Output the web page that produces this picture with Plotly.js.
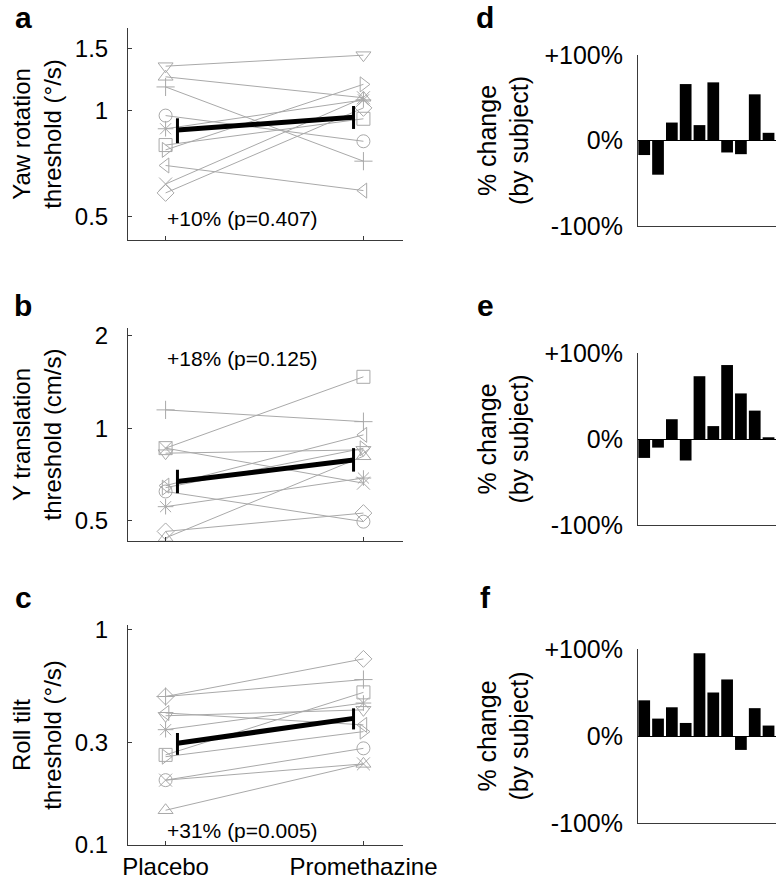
<!DOCTYPE html>
<html>
<head>
<meta charset="utf-8">
<script src="https://cdn.plot.ly/plotly-3.0.1.min.js"></script>
<style>
  body { margin: 0; padding: 0; background: #fff; }
  #chart { width: 776px; height: 879px; }
</style>
</head>
<body>
<div id="chart"></div>
<script>
// Conditions on the x axis
var conditions = ["Placebo", "Promethazine"];

// Marker per subject (same order in every panel)
var subjectMarkers = ["circle-open", "cross-thin-open", "asterisk-open", "x-thin-open", "square-open",
  "diamond-open", "triangle-up-open", "triangle-down-open", "triangle-right-open", "triangle-left-open"];

// a: yaw rotation thresholds (deg/s)
var yawPlacebo = [0.97, 1.17, 0.89, 0.62, 0.80, 0.585, 1.25, 1.34, 0.775, 0.70];
var yawPromethazine = [0.82, 0.72, 1.075, 1.09, 0.95, 1.02, 1.09, 1.44, 1.19, 0.594];
var yawMean = [0.883, 0.96];
var yawLow = [0.81, 0.889];
var yawHigh = [0.953, 1.033];

// b: y translation thresholds (cm/s)
var transPlacebo = [0.622, 1.147, 0.555, 0.861, 0.861, 0.461, 0.439, 0.829, 0.64, 0.65];
var transPromethazine = [0.496, 1.05, 0.688, 0.662, 1.47, 0.529, 0.81, 0.85, 0.86, 0.951];
var transMean = [0.670, 0.788];
var transLow = [0.614, 0.722];
var transHigh = [0.732, 0.861];

// c: roll tilt thresholds (deg/s)
var tiltPlacebo = [0.200, 0.489, 0.343, 0.200, 0.262, 0.489, 0.145, 0.398, 0.257, 0.41];
var tiltPromethazine = [0.281, 0.586, 0.456, 0.238, 0.511, 0.731, 0.238, 0.424, 0.336, 0.361];
var tiltMean = [0.297, 0.387];
var tiltLow = [0.262, 0.344];
var tiltHigh = [0.331, 0.431];

// d, e, f: % change by subject
var yawChange = [-17, -40, 21, 66, 18, 68, -14, -16, 54, 9];
var transChange = [-22, -10, 23, -25, 73, 15, 86, 53, 33, 2];
var tiltChange = [41, 20, 33, 15, 95, 50, 65, -16, 32, 12];

// summary text
var summaryText = ["+10% (p=0.407)", "+18% (p=0.125)", "+31% (p=0.005)"];

var W = 776, H = 879;
var FONT = "Liberation Sans, Arial, sans-serif";
var gray = "#a9a9a9";
var axisColor = "#3a3a3a";
var condX = [1, 2];
var meanX = [1.06, 1.95];

var data = [];

function linePanel(placebo, prometh, mean, low, high, n) {
  var xa = "x" + (n === 1 ? "" : n), ya = "y" + (n === 1 ? "" : n);
  for (var i = 0; i < placebo.length; i++) {
    data.push({
      x: condX, y: [placebo[i], prometh[i]],
      xaxis: xa, yaxis: ya,
      mode: "lines+markers", type: "scatter",
      line: { color: gray, width: 1 },
      marker: { symbol: subjectMarkers[i], size: 13, color: gray, line: { color: gray, width: 1 } },
      showlegend: false, hoverinfo: "skip"
    });
  }
  data.push({
    x: meanX, y: mean,
    xaxis: xa, yaxis: ya,
    mode: "lines", type: "scatter",
    line: { color: "black", width: 5 },
    error_y: {
      type: "data", symmetric: false,
      array: high.map((h, k) => h - mean[k]),
      arrayminus: low.map((l, k) => mean[k] - l),
      color: "black", thickness: 3, width: 0
    },
    showlegend: false, hoverinfo: "skip"
  });
}

function barPanel(vals, n) {
  data.push({
    x: vals.map((v, k) => k + 1), y: vals,
    xaxis: "x" + n, yaxis: "y" + n,
    type: "bar", width: 0.85,
    marker: { color: "black", line: { width: 0 } },
    showlegend: false, hoverinfo: "skip"
  });
}

linePanel(yawPlacebo, yawPromethazine, yawMean, yawLow, yawHigh, 1);
linePanel(transPlacebo, transPromethazine, transMean, transLow, transHigh, 2);
linePanel(tiltPlacebo, tiltPromethazine, tiltMean, tiltLow, tiltHigh, 3);
barPanel(yawChange, 4);
barPanel(transChange, 5);
barPanel(tiltChange, 6);

// pixel helpers (top-left origin)
function px(x) { return x / W; }
function py(y) { return 1 - y / H; }

var tickFont = { family: FONT, size: 24, color: "black" };
var titleFont = { family: FONT, size: 24, color: "black" };
var barTickFont = { family: FONT, size: 25, color: "black" };
var barTitleFont = { family: FONT, size: 25, color: "black" };

function lineX(dom, showLabels) {
  return {
    domain: dom, range: [0.81, 2.2],
    tickvals: condX, ticktext: conditions,
    showticklabels: showLabels, ticks: "inside", ticklen: 4,
    showline: true, linecolor: axisColor, linewidth: 1,
    showgrid: false, zeroline: false, tickfont: tickFont, tickcolor: axisColor
  };
}
function lineY(dom, rng, tv, title) {
  return {
    domain: dom, type: "log", range: rng,
    tickvals: tv, ticktext: tv.map(String),
    ticks: "inside", ticklen: 4, tickcolor: axisColor,
    ticklabelstandoff: 14,
    showline: true, linecolor: axisColor, linewidth: 1,
    showgrid: false, zeroline: false, tickfont: tickFont,
    title: { text: title, font: titleFont, standoff: 6 }
  };
}
function barX(dom) {
  return {
    domain: dom, range: [0.55, 10.54],
    showticklabels: false, ticks: "",
    showline: true, linecolor: axisColor, linewidth: 1,
    showgrid: false, zeroline: false
  };
}
function barY(dom) {
  return {
    domain: dom, range: [-100, 100],
    tickvals: [-100, 0, 100], ticktext: ["-100%", "0%", "+100%"],
    ticks: "", ticklabelstandoff: 9,
    showline: true, linecolor: axisColor, linewidth: 1,
    showgrid: false, zeroline: true, zerolinecolor: "black", zerolinewidth: 1,
    tickfont: barTickFont,
    title: { text: "% change<br>(by subject)", font: barTitleFont, standoff: 8 }
  };
}

var leftDom = [px(128), px(403)];
var rightDom = [px(638), 1];

var layout = {
  width: W, height: H,
  margin: { l: 0, r: 0, t: 0, b: 0 },
  paper_bgcolor: "white", plot_bgcolor: "white",
  font: { family: FONT, color: "black" },
  bargap: 0.15,
  xaxis: lineX(leftDom, false),
  yaxis: lineY([py(240), py(28)], [Math.log10(0.43), Math.log10(1.72)], [0.5, 1, 1.5], "Yaw rotation<br>threshold (°/s)"),
  xaxis2: lineX(leftDom, false),
  yaxis2: lineY([py(541), py(328)], [Math.log10(0.429), Math.log10(2.12)], [0.5, 1, 2], "Y translation<br>threshold (cm/s)"),
  xaxis3: lineX(leftDom, true),
  yaxis3: lineY([py(845), py(625)], [-1, Math.log10(1.05)], [0.1, 0.3, 1], "Roll tilt<br>threshold (°/s)"),
  xaxis4: barX(rightDom),
  yaxis4: barY([py(226), py(55)]),
  xaxis5: barX(rightDom),
  yaxis5: barY([py(525), py(353)]),
  xaxis6: barX(rightDom),
  yaxis6: barY([py(823), py(649)]),
  annotations: []
};
layout.xaxis.anchor = "y"; layout.yaxis.anchor = "x";
layout.xaxis2.anchor = "y2"; layout.yaxis2.anchor = "x2";
layout.xaxis3.anchor = "y3"; layout.yaxis3.anchor = "x3";
layout.xaxis4.anchor = "y4"; layout.yaxis4.anchor = "x4";
layout.xaxis5.anchor = "y5"; layout.yaxis5.anchor = "x5";
layout.xaxis6.anchor = "y6"; layout.yaxis6.anchor = "x6";

// panel letters
var letters = [["a", 23, 18], ["b", 23, 305], ["c", 23, 597], ["d", 485, 18], ["e", 485, 305], ["f", 485, 597]];
letters.forEach(function (l) {
  layout.annotations.push({
    text: "<b>" + l[0] + "</b>", xref: "paper", yref: "paper",
    x: px(l[1]), y: py(l[2]), xanchor: "center", yanchor: "middle",
    showarrow: false, font: { family: FONT, size: 30, color: "black" }
  });
});

// % change / p-value text
var summaryY = [218, 358, 830];
summaryText.forEach(function (t, i) {
  layout.annotations.push({
    text: t, xref: "paper", yref: "paper",
    x: px(165), y: py(summaryY[i]), xanchor: "left", yanchor: "middle",
    showarrow: false, font: { family: FONT, size: 21, color: "black" }
  });
});

Plotly.newPlot("chart", data, layout, { staticPlot: true });
</script>
</body>
</html>
